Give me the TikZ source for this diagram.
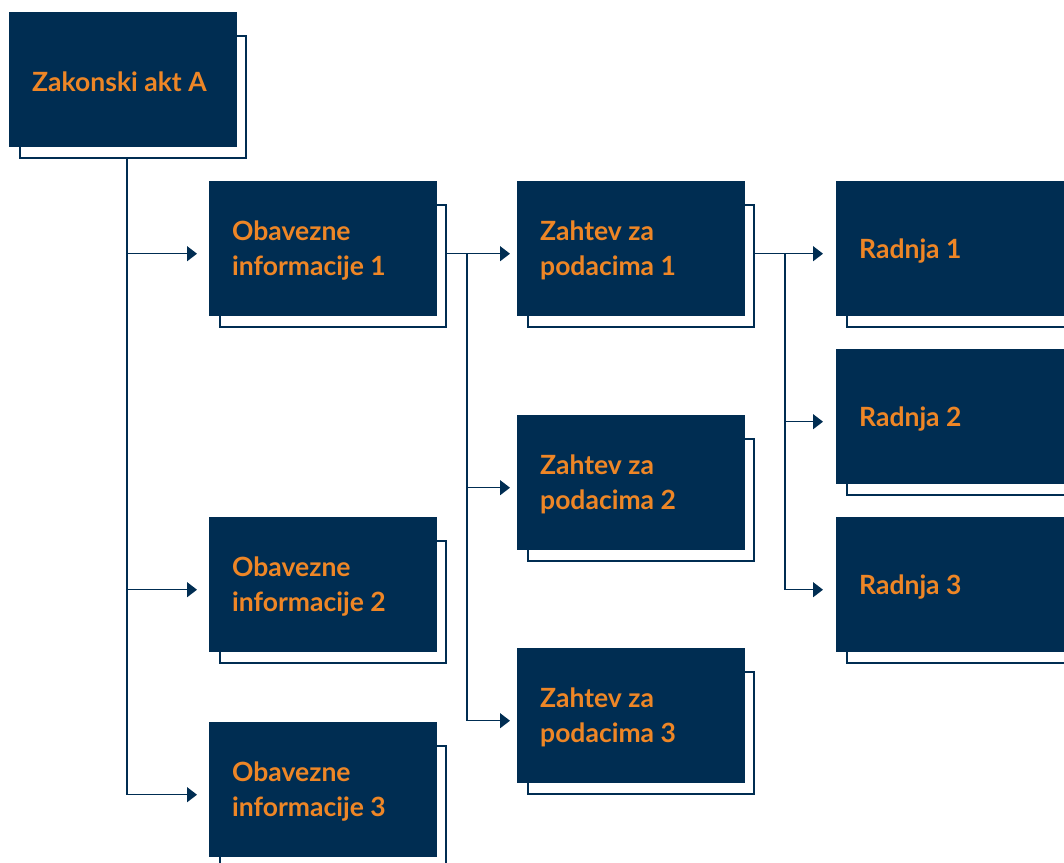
\documentclass[tikz,border=0pt]{standalone}
\usepackage{fontspec}
\setmainfont{Lato}
\usetikzlibrary{arrows.meta}
\definecolor{navy}{RGB}{0,45,82}
\definecolor{orng}{RGB}{238,134,38}
\begin{document}
\begin{tikzpicture}[x=1pt,y=-1pt,
  box/.style={fill=navy, anchor=north west, minimum width=228pt, minimum height=135pt,
    inner sep=0pt},
  lbl/.style={anchor=west, inner sep=0pt, align=left, text=orng,
    font=\fontsize{26.5}{35}\selectfont\bfseries},
  shadowbox/.style={draw=navy, line width=2pt, anchor=north west, minimum width=226pt,
    minimum height=122pt, inner sep=0pt},
  conn/.style={draw=navy, line width=1.3pt},
  arr/.style={conn, -{Triangle[length=10pt,width=15pt]}}]
\clip (0,0) rectangle (1064,862);
\useasboundingbox (0,0) rectangle (1064,862);
\newcommand{\mybox}[4]{%
  \node[shadowbox] (#1-s) at (#2+10,#3+23) {};
  \node[box] (#1) at (#2,#3) {};
  \node[lbl] (#1-t) at ([xshift=23pt,yshift=-2pt]#1.west) {#4};}
\mybox{z}{9}{12}{Zakonski akt A}
\mybox{o1}{209}{181}{Obavezne\\informacije 1}
\mybox{o2}{209}{517}{Obavezne\\informacije 2}
\mybox{o3}{209}{722}{Obavezne\\informacije 3}
\mybox{q1}{517}{181}{Zahtev za\\podacima 1}
\mybox{q2}{517}{415}{Zahtev za\\podacima 2}
\mybox{q3}{517}{648}{Zahtev za\\podacima 3}
\mybox{r1}{836}{181}{Radnja 1}
\mybox{r2}{836}{349}{Radnja 2}
\mybox{r3}{836}{517}{Radnja 3}
% trunk from Zakonski akt A
\coordinate (t) at (127,0);
\coordinate (o1c) at ([yshift=-5pt]o1.west);
\coordinate (o2c) at ([yshift=-5pt]o2.west);
\coordinate (o3c) at ([yshift=-5pt]o3.west);
\draw[conn] (t |- z-s.south) -- (t |- o3c);
\draw[arr, shorten >=12pt] (t |- o1c) -- (o1c);
\draw[arr, shorten >=12pt] (t |- o2c) -- (o2c);
\draw[arr, shorten >=12pt] (t |- o3c) -- (o3c);
% from Obavezne informacije 1
\coordinate (u) at (467,0);
\coordinate (q1c) at ([yshift=-5pt]q1.west);
\coordinate (q2c) at ([yshift=-5pt]q2.west);
\coordinate (q3c) at ([yshift=-5pt]q3.west);
\draw[arr, shorten >=7pt] (o1-s.east |- o1c) -- (q1c);
\draw[conn] (u |- o1c) -- (u |- q3c);
\draw[arr, shorten >=7pt] (u |- q2c) -- (q2c);
\draw[arr, shorten >=7pt] (u |- q3c) -- (q3c);
% from Zahtev za podacima 1
\coordinate (v) at (785,0);
\coordinate (r1c) at ([yshift=-5pt]r1.west);
\coordinate (r2c) at ([yshift=-5pt]r2.west);
\coordinate (r3c) at ([yshift=-5pt]r3.west);
\draw[arr, shorten >=13pt] (q1-s.east |- q1c) -- (r1c);
\draw[conn] (v |- q1c) -- (v |- r3c);
\draw[arr, shorten >=13pt] (v |- r2c) -- (r2c);
\draw[arr, shorten >=13pt] (v |- r3c) -- (r3c);
\end{tikzpicture}
\end{document}
